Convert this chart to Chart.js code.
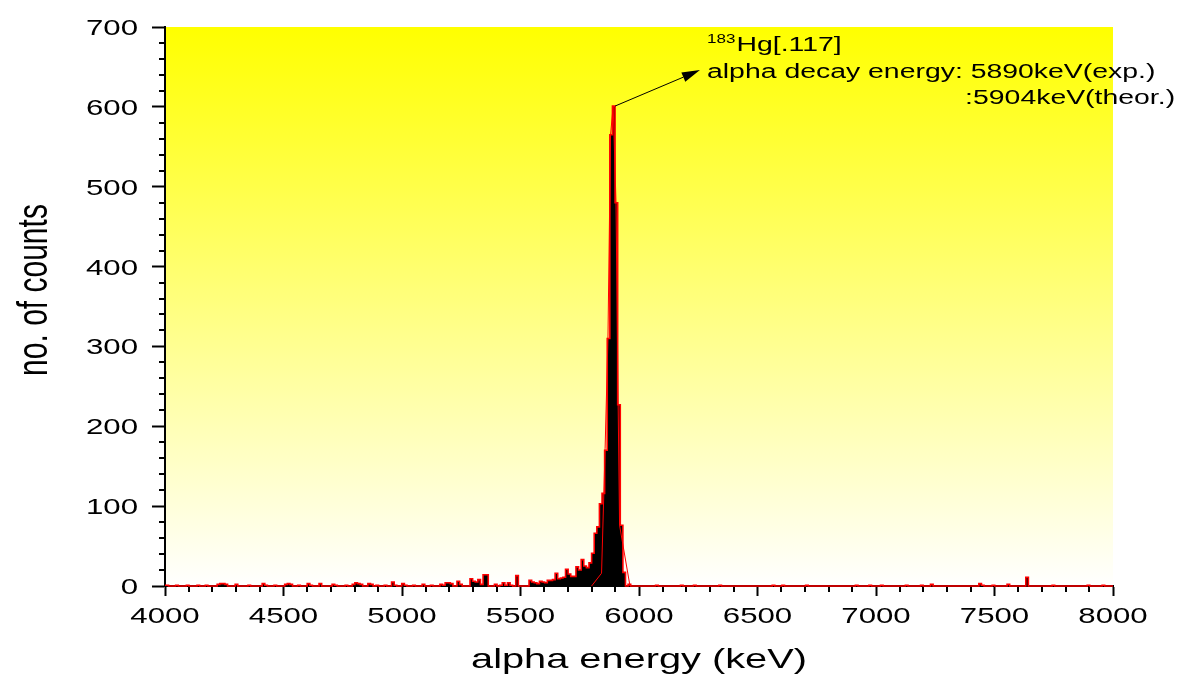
<!DOCTYPE html>
<html>
<head>
<meta charset="utf-8">
<script src="https://cdn.jsdelivr.net/npm/chart.js@4/dist/chart.umd.min.js"></script>
<style>
html,body{margin:0;padding:0;background:#ffffff;overflow:hidden}
canvas{display:block}
</style>
</head>
<body>
<canvas id="c" width="1181" height="677"></canvas>
<script>
// ---- axis ticks & titles ----
const xTickValues = [4000, 4500, 5000, 5500, 6000, 6500, 7000, 7500, 8000];
const xTickLabels = ['4000', '4500', '5000', '5500', '6000', '6500', '7000', '7500', '8000'];
const yTickValues = [0, 100, 200, 300, 400, 500, 600, 700];
const yTickLabels = ['0', '100', '200', '300', '400', '500', '600', '700'];
const xMinorStep = 100;
const yMinorStep = 20;
const xAxisTitle = 'alpha energy (keV)';
const yAxisTitle = 'no. of counts';

// ---- histogram (left bin edge in keV, counts held until next edge) ----
const lowNoiseEdges = [
  4000, 4015, 4045, 4056, 4090, 4101, 4135, 4146, 4170, 4181,
  4220, 4231, 4253, 4264, 4296, 4307, 4350, 4361, 4410, 4421,
  4432, 4460, 4471, 4505, 4516, 4527, 4538, 4560, 4571, 4600,
  4611, 4622, 4650, 4661, 4705, 4716, 4727, 4760, 4771, 4790,
  4801, 4812, 4823, 4834, 4856, 4867, 4878, 4890, 4901, 4925,
  4936, 4956, 4967, 4978, 4999, 5010, 5021, 5045, 5056, 5085,
  5096, 5120, 5131, 5160, 5171, 5182, 5193, 5204, 5215, 5232,
  5243, 5254, 5287, 5298, 5309, 5320, 5331, 5342, 5353, 5364,
  5390, 5401, 5412, 5423, 5434, 5445, 5456, 5467, 5480, 5491
];
const lowNoiseCounts = [
  1, 0, 1, 0, 1, 0, 1, 0, 1, 0,
  2, 3, 2, 0, 2, 0, 1, 0, 3, 1,
  0, 1, 0, 2, 3, 2, 0, 1, 0, 3,
  1, 0, 3, 0, 2, 1, 0, 1, 0, 2,
  4, 3, 2, 0, 3, 2, 0, 1, 0, 1,
  0, 5, 1, 0, 3, 1, 0, 1, 0, 2,
  0, 1, 0, 2, 1, 4, 4, 3, 0, 6,
  2, 0, 9, 6, 5, 8, 2, 14, 14, 0,
  2, 0, 1, 4, 1, 4, 1, 0, 13, 0
];
const peakEdges = [
  5536, 5547, 5558, 5569, 5580, 5591, 5602, 5613, 5624, 5635,
  5646, 5657, 5668, 5679, 5690, 5701, 5712, 5723, 5734, 5745,
  5756, 5767, 5778, 5789, 5800, 5811, 5822, 5833, 5844, 5855,
  5866, 5877, 5888, 5899, 5910, 5921, 5932, 5943, 5954, 5965
];
const peakCounts = [
  7, 5, 4, 3, 6, 5, 4, 7, 7, 8,
  16, 9, 10, 11, 21, 15, 12, 12, 24, 20,
  33, 25, 23, 29, 41, 66, 74, 103, 116, 170,
  310, 565, 601, 480, 227, 76, 17, 0, 2, 0
];
const highNoiseEdges = [
  6070, 6081, 6175, 6186, 6230, 6241, 6337, 6348, 6562, 6573,
  6603, 6614, 6703, 6714, 6913, 6924, 6970, 6981, 7019, 7030,
  7124, 7135, 7188, 7199, 7230, 7241, 7434, 7445, 7456, 7490,
  7501, 7553, 7564, 7632, 7643, 7743, 7754, 7891, 7902, 7954,
  7965, 8000
];
const highNoiseCounts = [
  1, 0, 1, 0, 1, 0, 1, 0, 1, 0,
  1, 0, 1, 0, 1, 0, 1, 0, 1, 0,
  1, 0, 1, 0, 2, 0, 3, 1, 0, 1,
  0, 2, 0, 11, 0, 1, 0, 1, 0, 1,
  0, 0
];

// ---- thin red fit curve ----
const fitEnergies = [5800, 5842, 5857, 5869, 5880, 5891, 5903, 5912, 5918, 5962];
const fitCounts   = [0,    16,   172,  310,  565,  601,  480,  227,  76,   0];

// ---- annotation (data coordinates) ----
const annotSup = '183';
const annotLine1 = 'Hg[.117]';
const annotLine2 = 'alpha decay energy: 5890keV(exp.)';
const annotLine3 = ':5904keV(theor.)';
const annotLeftKeV = 6287;
const annotRightKeV = 8262;
const annotBaselineCounts = [670, 636, 603];
const arrowFrom = [5899, 601];
const arrowTo = [6257, 646];

// ---- build datasets ----
const histEdges = lowNoiseEdges.concat(peakEdges, highNoiseEdges);
const histCounts = lowNoiseCounts.concat(peakCounts, highNoiseCounts);
const histPoints = histEdges.map((e, i) => ({ x: e, y: histCounts[i] }));
const fitPoints = fitEnergies.map((e, i) => ({ x: e, y: fitCounts[i] }));

const FONT = '"Liberation Sans", Arial, sans-serif';
const SX = 1.42; // horizontal stretch of the reference typography

function stretchedText(ctx, text, x, y, size, align) {
  ctx.save();
  ctx.translate(x, y);
  ctx.scale(SX, 1);
  ctx.font = size + 'px ' + FONT;
  ctx.textAlign = align;
  ctx.textBaseline = 'alphabetic';
  ctx.fillStyle = '#000000';
  ctx.fillText(text, 0, 0);
  ctx.restore();
}
function textWidth(ctx, text, size) {
  ctx.save();
  ctx.font = size + 'px ' + FONT;
  const w = ctx.measureText(text).width * SX;
  ctx.restore();
  return w;
}

const decor = {
  id: 'decor',
  beforeDraw(chart) {
    const { ctx, chartArea: a } = chart;
    const g = ctx.createLinearGradient(0, a.top, 0, a.bottom);
    g.addColorStop(0, '#ffff00');
    g.addColorStop(1, '#ffffff');
    ctx.save();
    ctx.fillStyle = g;
    ctx.fillRect(a.left, a.top, a.right - a.left, a.bottom - a.top);
    ctx.restore();
  },
  afterDraw(chart) {
    const { ctx, chartArea: a } = chart;
    const xs = chart.scales.x, ys = chart.scales.y;
    ctx.save();
    ctx.strokeStyle = '#000000';
    ctx.lineWidth = 2;
    ctx.beginPath();
    for (let v = xs.min; v <= xs.max; v += xMinorStep) {
      if (xTickValues.includes(v)) continue;
      const px = Math.round(xs.getPixelForValue(v));
      ctx.moveTo(px, a.bottom + 1);
      ctx.lineTo(px, a.bottom + 6);
    }
    for (let v = ys.min; v <= ys.max; v += yMinorStep) {
      if (yTickValues.includes(v)) continue;
      const py = Math.round(ys.getPixelForValue(v));
      ctx.moveTo(a.left - 6, py);
      ctx.lineTo(a.left - 1, py);
    }
    ctx.stroke();
    ctx.restore();

    // tick labels
    xTickValues.forEach((v, i) => {
      stretchedText(ctx, xTickLabels[i], xs.getPixelForValue(v), a.bottom + 37, 22, 'center');
    });
    yTickValues.forEach((v, i) => {
      stretchedText(ctx, yTickLabels[i], a.left - 27, ys.getPixelForValue(v) + 8, 22, 'right');
    });

    // axis titles
    stretchedText(ctx, xAxisTitle, (a.left + a.right) / 2, a.bottom + 82, 28, 'center');
    ctx.save();
    ctx.translate(47, 290);
    ctx.rotate(-Math.PI / 2);
    ctx.scale(1, SX);
    ctx.font = '30px ' + FONT;
    ctx.textAlign = 'center';
    ctx.textBaseline = 'alphabetic';
    ctx.fillStyle = '#000000';
    ctx.fillText(yAxisTitle, 0, 0);
    ctx.restore();

    // arrow
    const x1 = xs.getPixelForValue(arrowFrom[0]), y1 = ys.getPixelForValue(arrowFrom[1]);
    const x2 = xs.getPixelForValue(arrowTo[0]), y2 = ys.getPixelForValue(arrowTo[1]);
    const ang = Math.atan2(y2 - y1, x2 - x1);
    const hl = 18, hw = 5;
    ctx.save();
    ctx.strokeStyle = '#000000';
    ctx.fillStyle = '#000000';
    ctx.lineWidth = 1;
    ctx.beginPath();
    ctx.moveTo(x1, y1);
    ctx.lineTo(x2 - hl * Math.cos(ang), y2 - hl * Math.sin(ang));
    ctx.stroke();
    ctx.beginPath();
    ctx.moveTo(x2, y2);
    ctx.lineTo(x2 - hl * Math.cos(ang) + hw * Math.sin(ang), y2 - hl * Math.sin(ang) - hw * Math.cos(ang));
    ctx.lineTo(x2 - hl * Math.cos(ang) - hw * Math.sin(ang), y2 - hl * Math.sin(ang) + hw * Math.cos(ang));
    ctx.closePath();
    ctx.fill();
    ctx.restore();

    // annotation text
    const ax = xs.getPixelForValue(annotLeftKeV);
    const axr = xs.getPixelForValue(annotRightKeV);
    const b1 = ys.getPixelForValue(annotBaselineCounts[0]);
    const b2 = ys.getPixelForValue(annotBaselineCounts[1]);
    const b3 = ys.getPixelForValue(annotBaselineCounts[2]);
    stretchedText(ctx, annotSup, ax, b1 - 8, 12, 'left');
    stretchedText(ctx, annotLine1, ax + textWidth(ctx, annotSup, 12) + 1, b1, 20, 'left');
    stretchedText(ctx, annotLine2, ax, b2, 20, 'left');
    stretchedText(ctx, annotLine3, axr, b3, 20, 'right');
  }
};

new Chart(document.getElementById('c'), {
  type: 'line',
  data: {
    datasets: [
      {
        label: 'fit',
        data: fitPoints,
        borderColor: '#ff0000',
        borderWidth: 1,
        pointRadius: 0,
        fill: false,
        tension: 0
      },
      {
        label: 'counts',
        data: histPoints,
        stepped: 'before',
        borderColor: '#ff0000',
        borderWidth: 1.6,
        backgroundColor: '#000000',
        fill: 'origin',
        clip: false,
        pointRadius: 0,
        tension: 0
      }
    ]
  },
  options: {
    responsive: false,
    devicePixelRatio: 1,
    animation: false,
    events: [],
    layout: { padding: { left: 0, right: 68, top: 27, bottom: 0 } },
    plugins: { legend: { display: false }, tooltip: { enabled: false } },
    scales: {
      x: {
        type: 'linear',
        min: 4000,
        max: 8000,
        afterBuildTicks: s => { s.ticks = xTickValues.map(v => ({ value: v })); },
        afterFit: s => { s.height = 91; },
        ticks: { display: false },
        grid: { drawOnChartArea: false, drawTicks: true, tickLength: 10, tickColor: '#000000', tickWidth: 2 },
        border: { display: true, color: '#000000', width: 2 }
      },
      y: {
        type: 'linear',
        min: 0,
        max: 700,
        afterBuildTicks: s => { s.ticks = yTickValues.map(v => ({ value: v })); },
        afterFit: s => { s.width = 165; },
        ticks: { display: false },
        grid: { drawOnChartArea: false, drawTicks: true, tickLength: 13, tickColor: '#000000', tickWidth: 2 },
        border: { display: true, color: '#000000', width: 2 }
      }
    }
  },
  plugins: [decor]
});
</script>
</body>
</html>
